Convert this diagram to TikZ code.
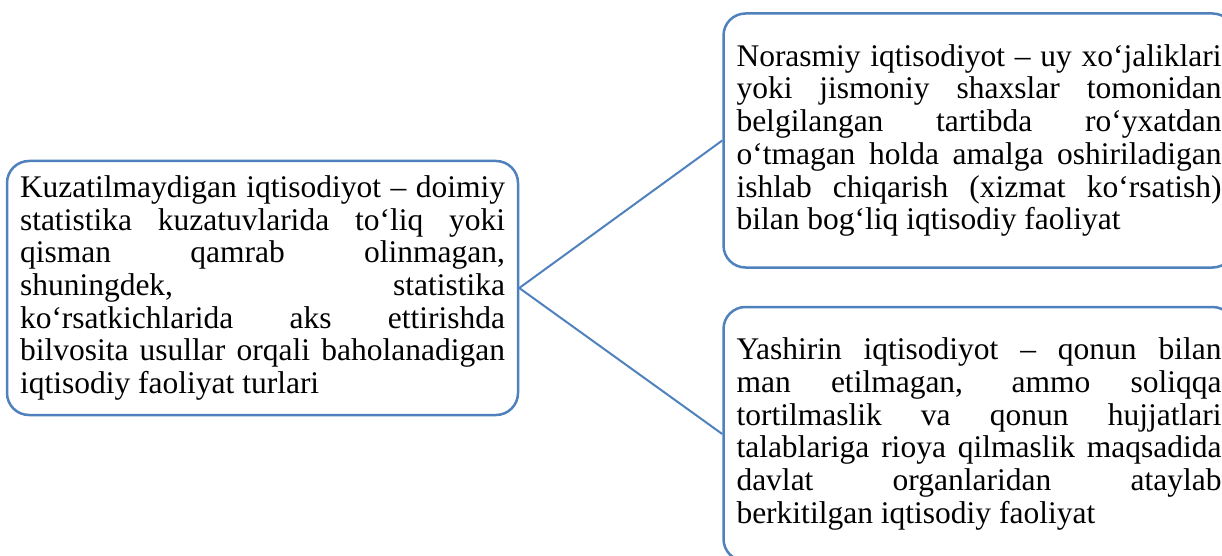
\documentclass[tikz,border=0pt]{standalone}
\usepackage{fontspec}
\setmainfont{Liberation Serif}
\usetikzlibrary{positioning}
\definecolor{boxblue}{RGB}{79,129,189}
\tolerance=10000
\hyphenpenalty=10000

\begin{document}
\begin{tikzpicture}[x=1pt,y=1pt,line join=round,
box node/.style={draw=boxblue,line width=2.5pt,rounded corners=22pt,
text width=485pt,inner xsep=13pt,minimum height=254pt,align=justify,
font=\fontsize{31.5}{32.7}\selectfont}]

\useasboundingbox (0,0) rectangle (1222,-556);

\node[box node] (k) at (262.5,-288) {Kuzatilmaydigan iqtisodiyot – doimiy\linebreak
statistika kuzatuvlarida to‘liq yoki\linebreak qisman qamrab olinmagan,\linebreak
shuningdek, statistika\linebreak ko‘rsatkichlarida aks ettirishda\linebreak
bilvosita usullar orqali baholanadigan\linebreak iqtisodiy faoliyat turlari};
\node[box node] (n) [right=203pt of k, yshift=147.5pt] {Norasmiy iqtisodiyot – uy xo‘jaliklari\linebreak
yoki jismoniy shaxslar tomonidan\linebreak belgilangan tartibda ro‘yxatdan\linebreak
o‘tmagan holda amalga oshiriladigan\linebreak ishlab chiqarish (xizmat ko‘rsatish)\linebreak
bilan bog‘liq iqtisodiy faoliyat};
\node[box node] (y) [right=203pt of k, yshift=-146pt] {Yashirin iqtisodiyot – qonun bilan\linebreak
man etilmagan, ammo soliqqa\linebreak tortilmaslik va qonun hujjatlari\linebreak
talablariga rioya qilmaslik maqsadida\linebreak davlat organlaridan ataylab\linebreak
berkitilgan iqtisodiy faoliyat};


\path[color=boxblue,line width=2pt]
(k.east) edge (n.west)
(k.east) edge (y.west)
;
\end{tikzpicture}
\end{document}
